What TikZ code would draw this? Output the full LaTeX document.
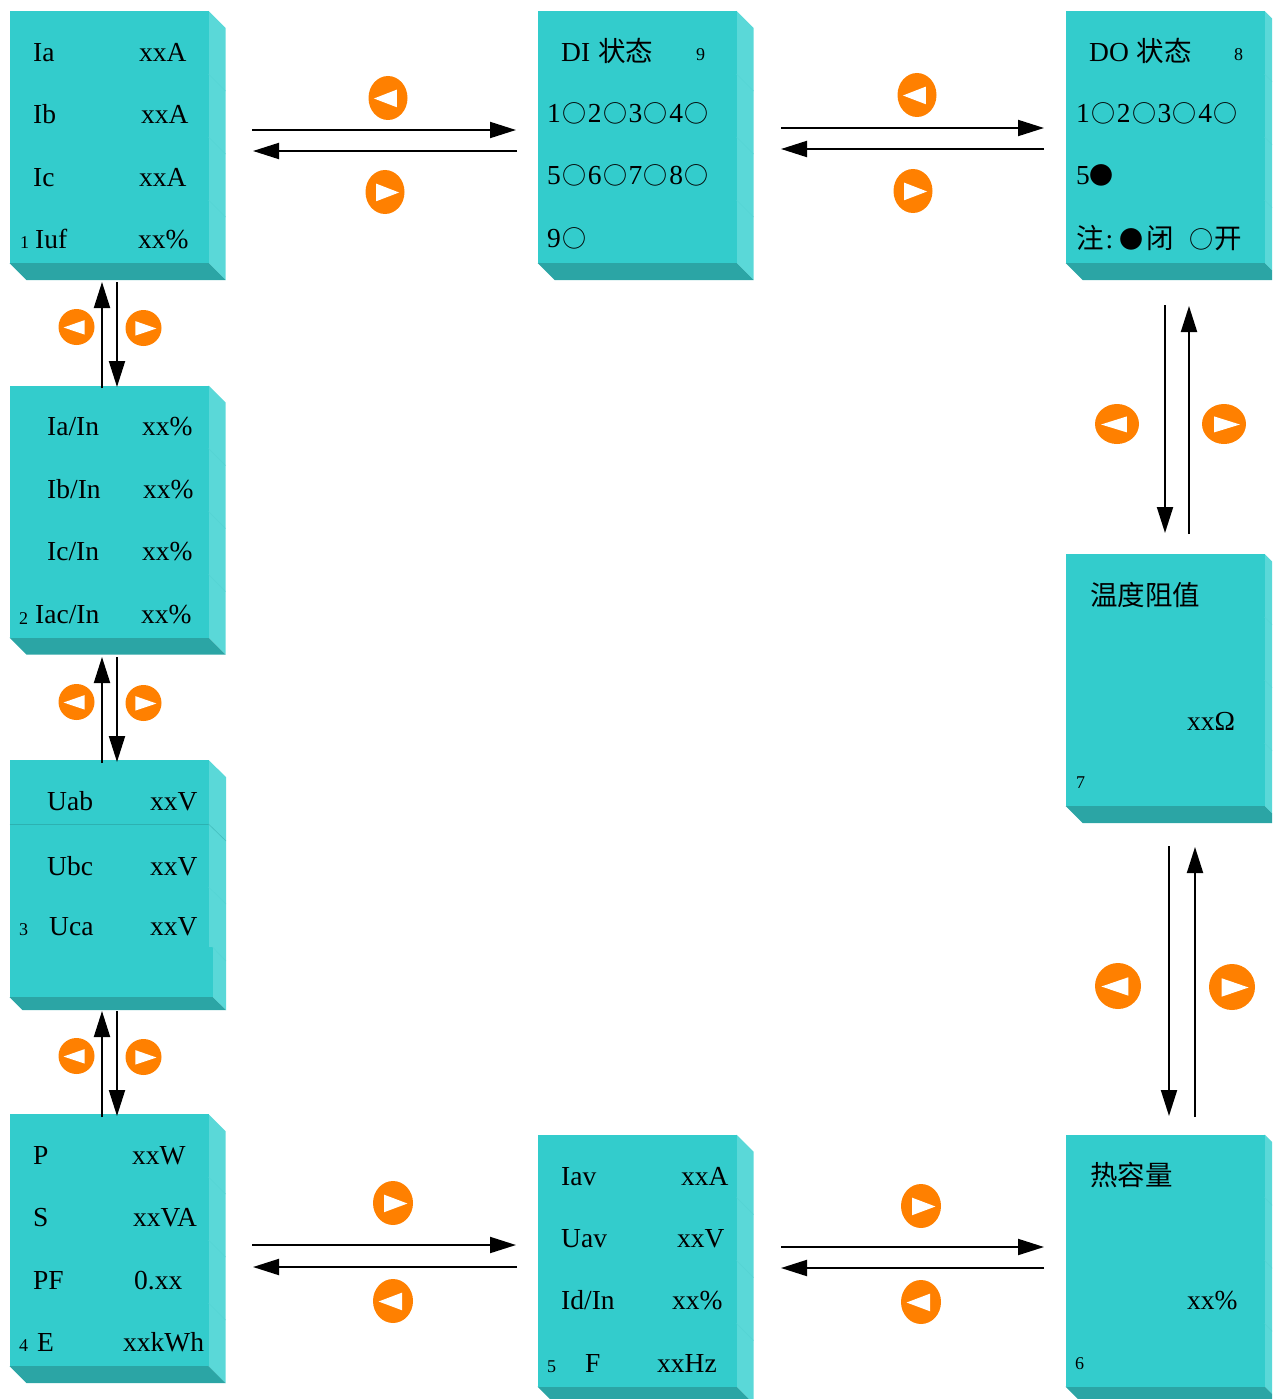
\documentclass[tikz,border=0pt]{standalone}
\usepackage{fontspec}
\setmainfont{Liberation Serif}
\newfontfamily\cjk{Noto Sans CJK SC}
\usetikzlibrary{arrows.meta}

\definecolor{facecol}{HTML}{33CCCC}
\definecolor{sidecol}{HTML}{5AD8D8}
\definecolor{basecol}{HTML}{2BA5A5}
\definecolor{ligncol}{HTML}{54D4D4}
\definecolor{boutcol}{HTML}{FF8000}

\newcommand{\rond}{\hspace{1.5pt}{\cjk\fontsize{24}{30}\selectfont ○}\hspace{1.5pt}}
\newcommand{\plein}{{\cjk\fontsize{24}{30}\selectfont ●}}

\tikzset{
	ecran/.style={rectangle, fill=facecol, inner sep=0pt, anchor=north west},
	texte/.style={anchor=base west, inner sep=0pt, font=\fontsize{27.5}{30}\selectfont},
	petit/.style={anchor=base west, inner sep=0pt, font=\fontsize{18}{20}\selectfont},
	fleche/.style={-{Triangle[length=26pt,width=16pt]}, line width=2pt},
}

\begin{document}
\begin{tikzpicture}[x=1pt,y=-1pt]

%%%%%%%%%%%%%%%%%%%%%%
%%%	 Def geometrie  %%%
%%%%%%%%%%%%%%%%%%%%%%

\def \largeur{199}
\def \hauteur{252}
\def \prof{17}

\clip (0,0) rectangle (1272,1399);

%%%%%%%%%%%%%%%%%%%%%%
%%%	    Ecrans      %%%
%%%%%%%%%%%%%%%%%%%%%%

\foreach \nom/\x/\y in {un/9.5/11, deux/9.5/385.5, quatre/9.5/1114, cinq/537.5/1134.5, six/1065.5/1134.5, sept/1065.5/554, huit/1065.5/11, neuf/537.5/11}{
	\fill[sidecol] (\x+\largeur,\y) -- +(\prof,\prof) -- +(\prof,\hauteur+\prof) -- +(0,\hauteur) -- cycle;
	\fill[basecol] (\x,\y+\hauteur) -- +(\prof,\prof) -- +(\largeur+\prof,\prof) -- +(\largeur,0) -- cycle;
	\node[ecran, minimum width=\largeur pt, minimum height=\hauteur pt] (ecran\nom) at (\x,\y) {};
	% Traits des lignes sur le flanc
	\foreach \k in {1,2,3}
		\draw[ligncol, line width=0.5pt] (\x+\largeur,\y+\k*63) -- +(\prof,\prof);
}

% Le troisieme ecran est plus court, avec un decrochement
\fill[sidecol] (208.5,760) -- (226,777) -- (226,1010) -- (212.5,997) -- (212.5,947) -- (208.5,947) -- cycle;
\fill[basecol] (9.5,997) -- (22.5,1010) -- (226,1010) -- (212.5,997) -- cycle;
\node[ecran, minimum width=199pt, minimum height=237pt] (ecrantrois) at (9.5,760) {};
\fill[facecol] (208,947) rectangle (212.5,997);
\draw[basecol!70!facecol, line width=0.8pt] (9.5,824) -- (208.5,824);
\draw[basecol!50!sidecol, line width=0.6pt] (208.5,824) -- (226,841);
\draw[ligncol, line width=0.5pt] (208.5,887) -- +(17.5,17);
\draw[ligncol, line width=0.5pt] (212.5,947) -- +(13.5,14);

%%%%%%%%%%%%%%%%%%%%%%
%%%	    Textes      %%%
%%%%%%%%%%%%%%%%%%%%%%

\foreach \x/\y/\txt [count=\i] in {
	33/62/Ia, 139/62/xxA, 33/124/Ib, 141/124/xxA, 33/186/Ic, 139/186/xxA, 35/248/Iuf, 138/248/xx\%,
	47/435/{Ia/In}, 142/435/xx\%, 47/498/{Ib/In}, 143/498/xx\%, 47/560/{Ic/In}, 142/560/xx\%, 35/623/{Iac/In}, 141/623/xx\%,
	47/810/Uab, 150/810/xxV, 47/875/Ubc, 150/875/xxV, 49/935/Uca, 150/935/xxV,
	33/1164/P, 132/1164/xxW, 33/1226/S, 133/1226/xxVA, 33/1289/PF, 134/1289/0.xx, 37/1351/E, 123/1351/xxkWh,
	561/1185/Iav, 681/1185/xxA, 561/1247/Uav, 677/1247/xxV, 561/1309/{Id/In}, 672/1309/xx\%, 585/1372/F, 657/1372/xxHz,
	1090/1185/{\cjk 热容量}, 1187/1309/xx\%,
	1090/605/{\cjk 温度阻值}, 1187/730/xxΩ,
	1089/62/{DO\hspace{8pt}{\cjk 状态}}, 1076/123/{1\rond 2\rond 3\rond 4\rond}, 1076/185/{5\plein},
	1076/248/{{\cjk 注}\hspace{2pt}:\hspace{6pt}\plein\hspace{3pt}{\cjk 闭}\hspace{14pt}\rond{\cjk 开}},
	561/62/{DI\hspace{8pt}{\cjk 状态}}, 547/123/{1\rond 2\rond 3\rond 4\rond}, 547/185/{5\rond 6\rond 7\rond 8\rond}, 547/247/{9\rond}
}{
	\node[texte] (texte\i) at (\x,\y) {\txt};
}

% Numeros des ecrans
\foreach \x/\y/\txt in {20/248/1, 19/624/2, 19/935/3, 19/1351/4, 547/1372/5, 1075/1369/6, 1076/788/7, 1234/61/8, 696/61/9}{
	\node[petit] (num\txt) at (\x,\y) {\txt};
}

%%%%%%%%%%%%%%%%%%%%%%
%%%	    Fleches     %%%
%%%%%%%%%%%%%%%%%%%%%%

\foreach \nom/\xa/\ya/\xb/\yb in {
	ha/252/130/516/130, hb/517/151/253/151, hc/781/128/1044/128, hd/1044/149/781/149,
	ba/252/1245/516/1245, bb/517/1267/253/1267, bc/781/1247/1044/1247, bd/1044/1268/781/1268,
	ga/102/388/102/282, gb/117/282/117/387, gc/102/763/102/657, gd/117/657/117/762, ge/102/1117/102/1011, gf/117/1011/117/1116,
	da/1165/305/1165/533, db/1189/534/1189/306, dc/1169/846/1169/1116, dd/1195/1117/1195/847}{
	\coordinate (dep\nom) at (\xa,\ya);
	\coordinate (arr\nom) at (\xb,\yb);
	\draw[fleche] (dep\nom) -- (arr\nom);
}

%%%%%%%%%%%%%%%%%%%%%%
%%%	    Boutons     %%%
%%%%%%%%%%%%%%%%%%%%%%

% sens : 1 vers la gauche, -1 vers la droite
\foreach \x/\y/\rx/\ry/\sens in {
	388/98/19.5/22/1, 385/192/19.5/22/-1, 917/95/19.5/22/1, 913/191/19.5/22/-1,
	76.5/327/18/18/1, 143.5/328/18/18/-1, 76.5/702/18/18/1, 143.5/703/18/18/-1, 76.5/1056/18/18/1, 143.5/1057/18/18/-1,
	1117/424/22/20/1, 1224/424/22/20/-1, 1118/986/23/23/1, 1232/987/23/23/-1,
	393/1203/20/22/-1, 393/1301/20/22/1, 921/1206/20/22/-1, 921/1302/20/22/1}{
	\fill[boutcol] (\x,\y) ellipse ({\rx} and {\ry});
	\fill[white] (\x-\sens*0.72*\rx,\y+0.5) -- (\x+\sens*0.45*\rx,\y-0.38*\ry) -- (\x+\sens*0.45*\rx,\y+0.42*\ry) -- cycle;
}

\end{tikzpicture}
\end{document}
